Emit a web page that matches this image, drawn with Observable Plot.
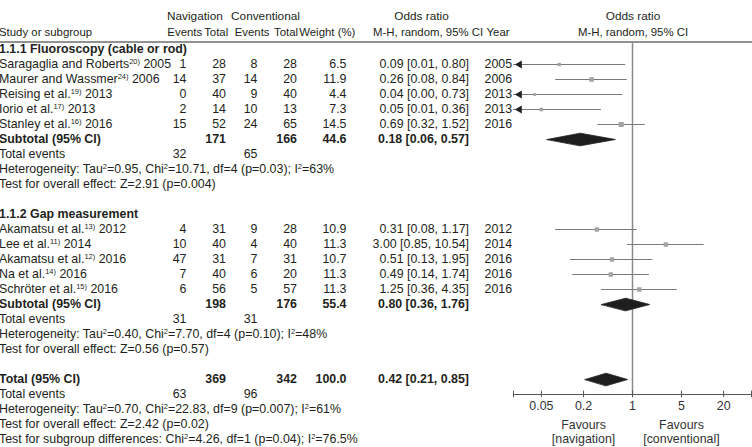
<!DOCTYPE html>
<html><head><meta charset="utf-8">
<script src="https://cdn.jsdelivr.net/npm/d3@7"></script>
<script src="https://cdn.jsdelivr.net/npm/@observablehq/plot@0.6"></script>
<style>html,body{margin:0;padding:0;background:#fff}svg{display:block}</style>
</head><body><div id="chart"></div>
<script>
// ---------- Subgroup 1.1.1 ----------
const g1Title = "1.1.1 Fluoroscopy (cable or rod)";
const g1Study = ["Saragaglia and Roberts^{20)} 2005", "Maurer and Wassmer^{24)} 2006", "Reising et al.^{19)} 2013", "Iorio et al.^{17)} 2013", "Stanley et al.^{16)} 2016"];
const g1NavEvents = [1, 14, 0, 2, 15];
const g1NavTotal = [28, 37, 40, 14, 52];
const g1ConvEvents = [8, 14, 9, 10, 24];
const g1ConvTotal = [28, 20, 40, 13, 65];
const g1Weight = [6.5, 11.9, 4.4, 7.3, 14.5];
const g1OR = [0.09, 0.26, 0.04, 0.05, 0.69];
const g1Lower = [0.01, 0.08, 0.00, 0.01, 0.32];
const g1Upper = [0.80, 0.84, 0.73, 0.36, 1.52];
const g1Year = ["2005", "2006", "2013", "2013", "2016"];
const g1Subtotal = [171, 166, 44.6];          // navigation total, conventional total, weight
const g1SubtotalOR = [0.18, 0.06, 0.57];      // estimate, lower, upper
const g1TotalEvents = [32, 65];
const g1Heterogeneity = "Heterogeneity: Tau^{2}=0.95, Chi^{2}=10.71, df=4 (p=0.03); I^{2}=63%";
const g1Effect = "Test for overall effect: Z=2.91 (p=0.004)";

// ---------- Subgroup 1.1.2 ----------
const g2Title = "1.1.2 Gap measurement";
const g2Study = ["Akamatsu et al.^{13)} 2012", "Lee et al.^{11)} 2014", "Akamatsu et al.^{12)} 2016", "Na et al.^{14)} 2016", "Schröter et al.^{15)} 2016"];
const g2NavEvents = [4, 10, 47, 7, 6];
const g2NavTotal = [31, 40, 31, 40, 56];
const g2ConvEvents = [9, 4, 7, 6, 5];
const g2ConvTotal = [28, 40, 31, 20, 57];
const g2Weight = [10.9, 11.3, 10.7, 11.3, 11.3];
const g2OR = [0.31, 3.00, 0.51, 0.49, 1.25];
const g2Lower = [0.08, 0.85, 0.13, 0.14, 0.36];
const g2Upper = [1.17, 10.54, 1.95, 1.74, 4.35];
const g2Year = ["2012", "2014", "2016", "2016", "2016"];
const g2Subtotal = [198, 176, 55.4];
const g2SubtotalOR = [0.80, 0.36, 1.76];
const g2TotalEvents = [31, 31];
const g2Heterogeneity = "Heterogeneity: Tau^{2}=0.40, Chi^{2}=7.70, df=4 (p=0.10); I^{2}=48%";
const g2Effect = "Test for overall effect: Z=0.56 (p=0.57)";

// ---------- Overall ----------
const totalLabel = "Total (95% CI)";
const total = [369, 342, 100.0];
const totalOR = [0.42, 0.21, 0.85];
const totalEvents = [63, 96];
const totalHeterogeneity = "Heterogeneity: Tau^{2}=0.70, Chi^{2}=22.83, df=9 (p=0.007); I^{2}=61%";
const totalEffect = "Test for overall effect: Z=2.42 (p=0.02)";
const subgroupDiff = "Test for subgroup differences: Chi^{2}=4.26, df=1 (p=0.04); I^{2}=76.5%";

// ---------- Headers & axis ----------
const headerTop = ["Navigation", "Conventional", "Odds ratio", "Odds ratio"];
const headerBottom = ["Events", "Total", "Events", "Total", "Weight (%)", "M-H, random, 95% CI", "Year", "M-H, random, 95% CI"];
const headerFirst = "Study or subgroup";
const axisDomain = [0.02, 50];
const tickValues = [0.05, 0.2, 1, 5, 20];
const favourLabels = ["Favours\n[navigation]", "Favours\n[conventional]"];
const favourAt = [0.2, 5];

// ---------- Build tables ----------
const groups = [
  {title: g1Title, study: g1Study, ne: g1NavEvents, nt: g1NavTotal, ce: g1ConvEvents, ct: g1ConvTotal, w: g1Weight, or: g1OR, lo: g1Lower, hi: g1Upper, yr: g1Year, sub: g1Subtotal, subOR: g1SubtotalOR, ev: g1TotalEvents, het: g1Heterogeneity, eff: g1Effect},
  {title: g2Title, study: g2Study, ne: g2NavEvents, nt: g2NavTotal, ce: g2ConvEvents, ct: g2ConvTotal, w: g2Weight, or: g2OR, lo: g2Lower, hi: g2Upper, yr: g2Year, sub: g2Subtotal, subOR: g2SubtotalOR, ev: g2TotalEvents, het: g2Heterogeneity, eff: g2Effect}
];
const fmtOR = (e, l, h) => `${e.toFixed(2)} [${l.toFixed(2)}, ${h.toFixed(2)}]`;
const rows = [], studies = [], diamonds = [];
let row = -1;
for (const g of groups) {
  rows.push({row, label: g.title, bold: true}); row++;
  g.study.forEach((s, i) => {
    rows.push({row, label: s, ne: String(g.ne[i]), nt: String(g.nt[i]), ce: String(g.ce[i]), ct: String(g.ct[i]), w: g.w[i].toFixed(1), ort: fmtOR(g.or[i], g.lo[i], g.hi[i]), yr: g.yr[i]});
    studies.push({row, or: g.or[i], lo: g.lo[i], hi: g.hi[i], w: g.w[i]});
    row++;
  });
  rows.push({row, label: "Subtotal (95% CI)", bold: true, nt: String(g.sub[0]), ct: String(g.sub[1]), w: g.sub[2].toFixed(1), ort: fmtOR(...g.subOR)});
  diamonds.push({row, est: g.subOR[0], lo: g.subOR[1], hi: g.subOR[2]}); row++;
  rows.push({row, label: "Total events", ne: String(g.ev[0]), ce: String(g.ev[1])}); row++;
  rows.push({row, label: g.het}); row++;
  rows.push({row, label: g.eff}); row++;
  row++;
}
rows.push({row, label: totalLabel, bold: true, nt: String(total[0]), ct: String(total[1]), w: total[2].toFixed(1), ort: fmtOR(...totalOR)});
diamonds.push({row, est: totalOR[0], lo: totalOR[1], hi: totalOR[2]}); row++;
const axisRow = row;
rows.push({row, label: "Total events", ne: String(totalEvents[0]), ce: String(totalEvents[1])}); row++;
rows.push({row, label: totalHeterogeneity}); row++;
rows.push({row, label: totalEffect}); row++;
rows.push({row, label: subgroupDiff}); row++;

const dh = 0.42;
const diamondPts = diamonds.flatMap((d, k) => [
  {id: k, x: d.lo, y: d.row}, {id: k, x: d.est, y: d.row - dh},
  {id: k, x: d.hi, y: d.row}, {id: k, x: d.est, y: d.row + dh}
]);
const clampLo = (v) => Math.max(v, axisDomain[0]);
const clampHi = (v) => Math.min(v, axisDomain[1]);

const ink = "#231f20";
const normal = rows.filter(d => !d.bold), bold = rows.filter(d => d.bold);
function colText(data, key, dx, anchor, weight) {
  return Plot.text(data.filter(d => d[key] !== undefined), {y: "row", text: key, frameAnchor: "left", textAnchor: anchor, dx, fontWeight: weight});
}
function columns(data, weight) {
  return [
    colText(data, "label", -1.5, "start", weight),
    colText(data, "ne", 186, "end", weight),
    colText(data, "nt", 225.5, "end", weight),
    colText(data, "ce", 257, "end", weight),
    colText(data, "ct", 296.5, "end", weight),
    colText(data, "w", 346, "end", weight),
    colText(data, "ort", 468.5, "end", weight),
    colText(data, "yr", 484, "start", weight)
  ];
}
// header placement: [pixel offset, anchor]
const headTopPos = [[194.4, "middle"], [265, "middle"], [421, "middle"], [632.5, "middle"]];
const headBottomPos = [[201.7, "end"], [227.7, "end"], [269, "end"], [297.5, "end"], [326.8, "middle"], [482.7, "end"], [486, "start"], [632.5, "middle"]];

const marks = [
  Plot.ruleY([-1.5], {stroke: "#6e6e6e", strokeWidth: 1.3}),
  Plot.ruleX([1], {y1: -1.5, y2: axisRow, stroke: "#8a8a8a", strokeWidth: 1.5}),
  Plot.ruleY([axisRow], {x1: axisDomain[0], x2: axisDomain[1], stroke: "#555", strokeWidth: 1}),
  Plot.ruleX([...axisDomain, ...tickValues], {x: d => d, y1: axisRow - 0.22, y2: axisRow + 0.22, stroke: "#555", strokeWidth: 1}),
  Plot.text(tickValues, {x: d => d, y: axisRow + 0.75, text: d => String(d), fill: "#333"}),
  Plot.text(favourLabels, {x: (d, i) => favourAt[i], y: axisRow + 2.47, text: d => d, lineHeight: 1.12, fill: "#333"}),
  Plot.ruleY(studies, {y: "row", x1: d => clampLo(d.lo), x2: d => clampHi(d.hi), stroke: "#7a7a7a", strokeWidth: 1}),
  Plot.dot(studies, {x: "or", y: "row", r: "w", symbol: "square", fill: "#a3a3a3", stroke: "none"}),
  Plot.dot(studies.filter(d => d.lo < axisDomain[0]), {x: () => axisDomain[0], y: "row", symbol: "triangle", r: 3, rotate: -90, dx: 6, fill: "#222", stroke: "none"}),
  Plot.line(diamondPts, {x: "x", y: "y", z: "id", curve: "linear-closed", fill: "#1e1e1e", stroke: "#1e1e1e", strokeWidth: 0.8}),
  ...columns(normal, "normal"),
  ...columns(bold, "bold"),
  ...headerTop.map((t, i) => Plot.text([t], {y: -3.2, text: d => d, frameAnchor: "left", textAnchor: headTopPos[i][1], dx: headTopPos[i][0], fontSize: 11.8})),
  ...headerBottom.map((t, i) => Plot.text([t], {y: -2.17, text: d => d, frameAnchor: "left", textAnchor: headBottomPos[i][1], dx: headBottomPos[i][0], fontSize: 11.4})),
  Plot.text([headerFirst], {y: -2.17, text: d => d, frameAnchor: "left", textAnchor: "start", dx: -1.5, fontSize: 11.4})
];

const chart = Plot.plot({
  width: 752, height: 447,
  marginLeft: 0, marginRight: 0, marginTop: 0, marginBottom: 0,
  style: {fontFamily: "'Liberation Sans', Arial, Helvetica, sans-serif", fontSize: "12.4px", color: ink, background: "#fff"},
  x: {type: "log", domain: axisDomain, range: [513, 751], axis: null},
  y: {type: "linear", domain: [0, 25], range: [64, 439], axis: null},
  r: {type: "sqrt", domain: [0, 15], range: [0, 2.9]},
  marks
});
document.getElementById("chart").appendChild(chart);

// render ^{...} markup as superscript tspans
d3.select(chart).selectAll("text").each(function () {
  const s = this.textContent;
  if (!s.includes("^{")) return;
  const parts = s.split(/\^\{([^}]*)\}/);
  this.textContent = "";
  let shifted = false;
  parts.forEach((p, i) => {
    const ts = d3.select(this).append("tspan").text(p);
    if (i % 2 === 1) { ts.attr("font-size", "7.5px").attr("dy", -4.8); shifted = true; }
    else if (shifted) { ts.attr("dy", 4.8); shifted = false; }
  });
});
</script>
</body></html>
